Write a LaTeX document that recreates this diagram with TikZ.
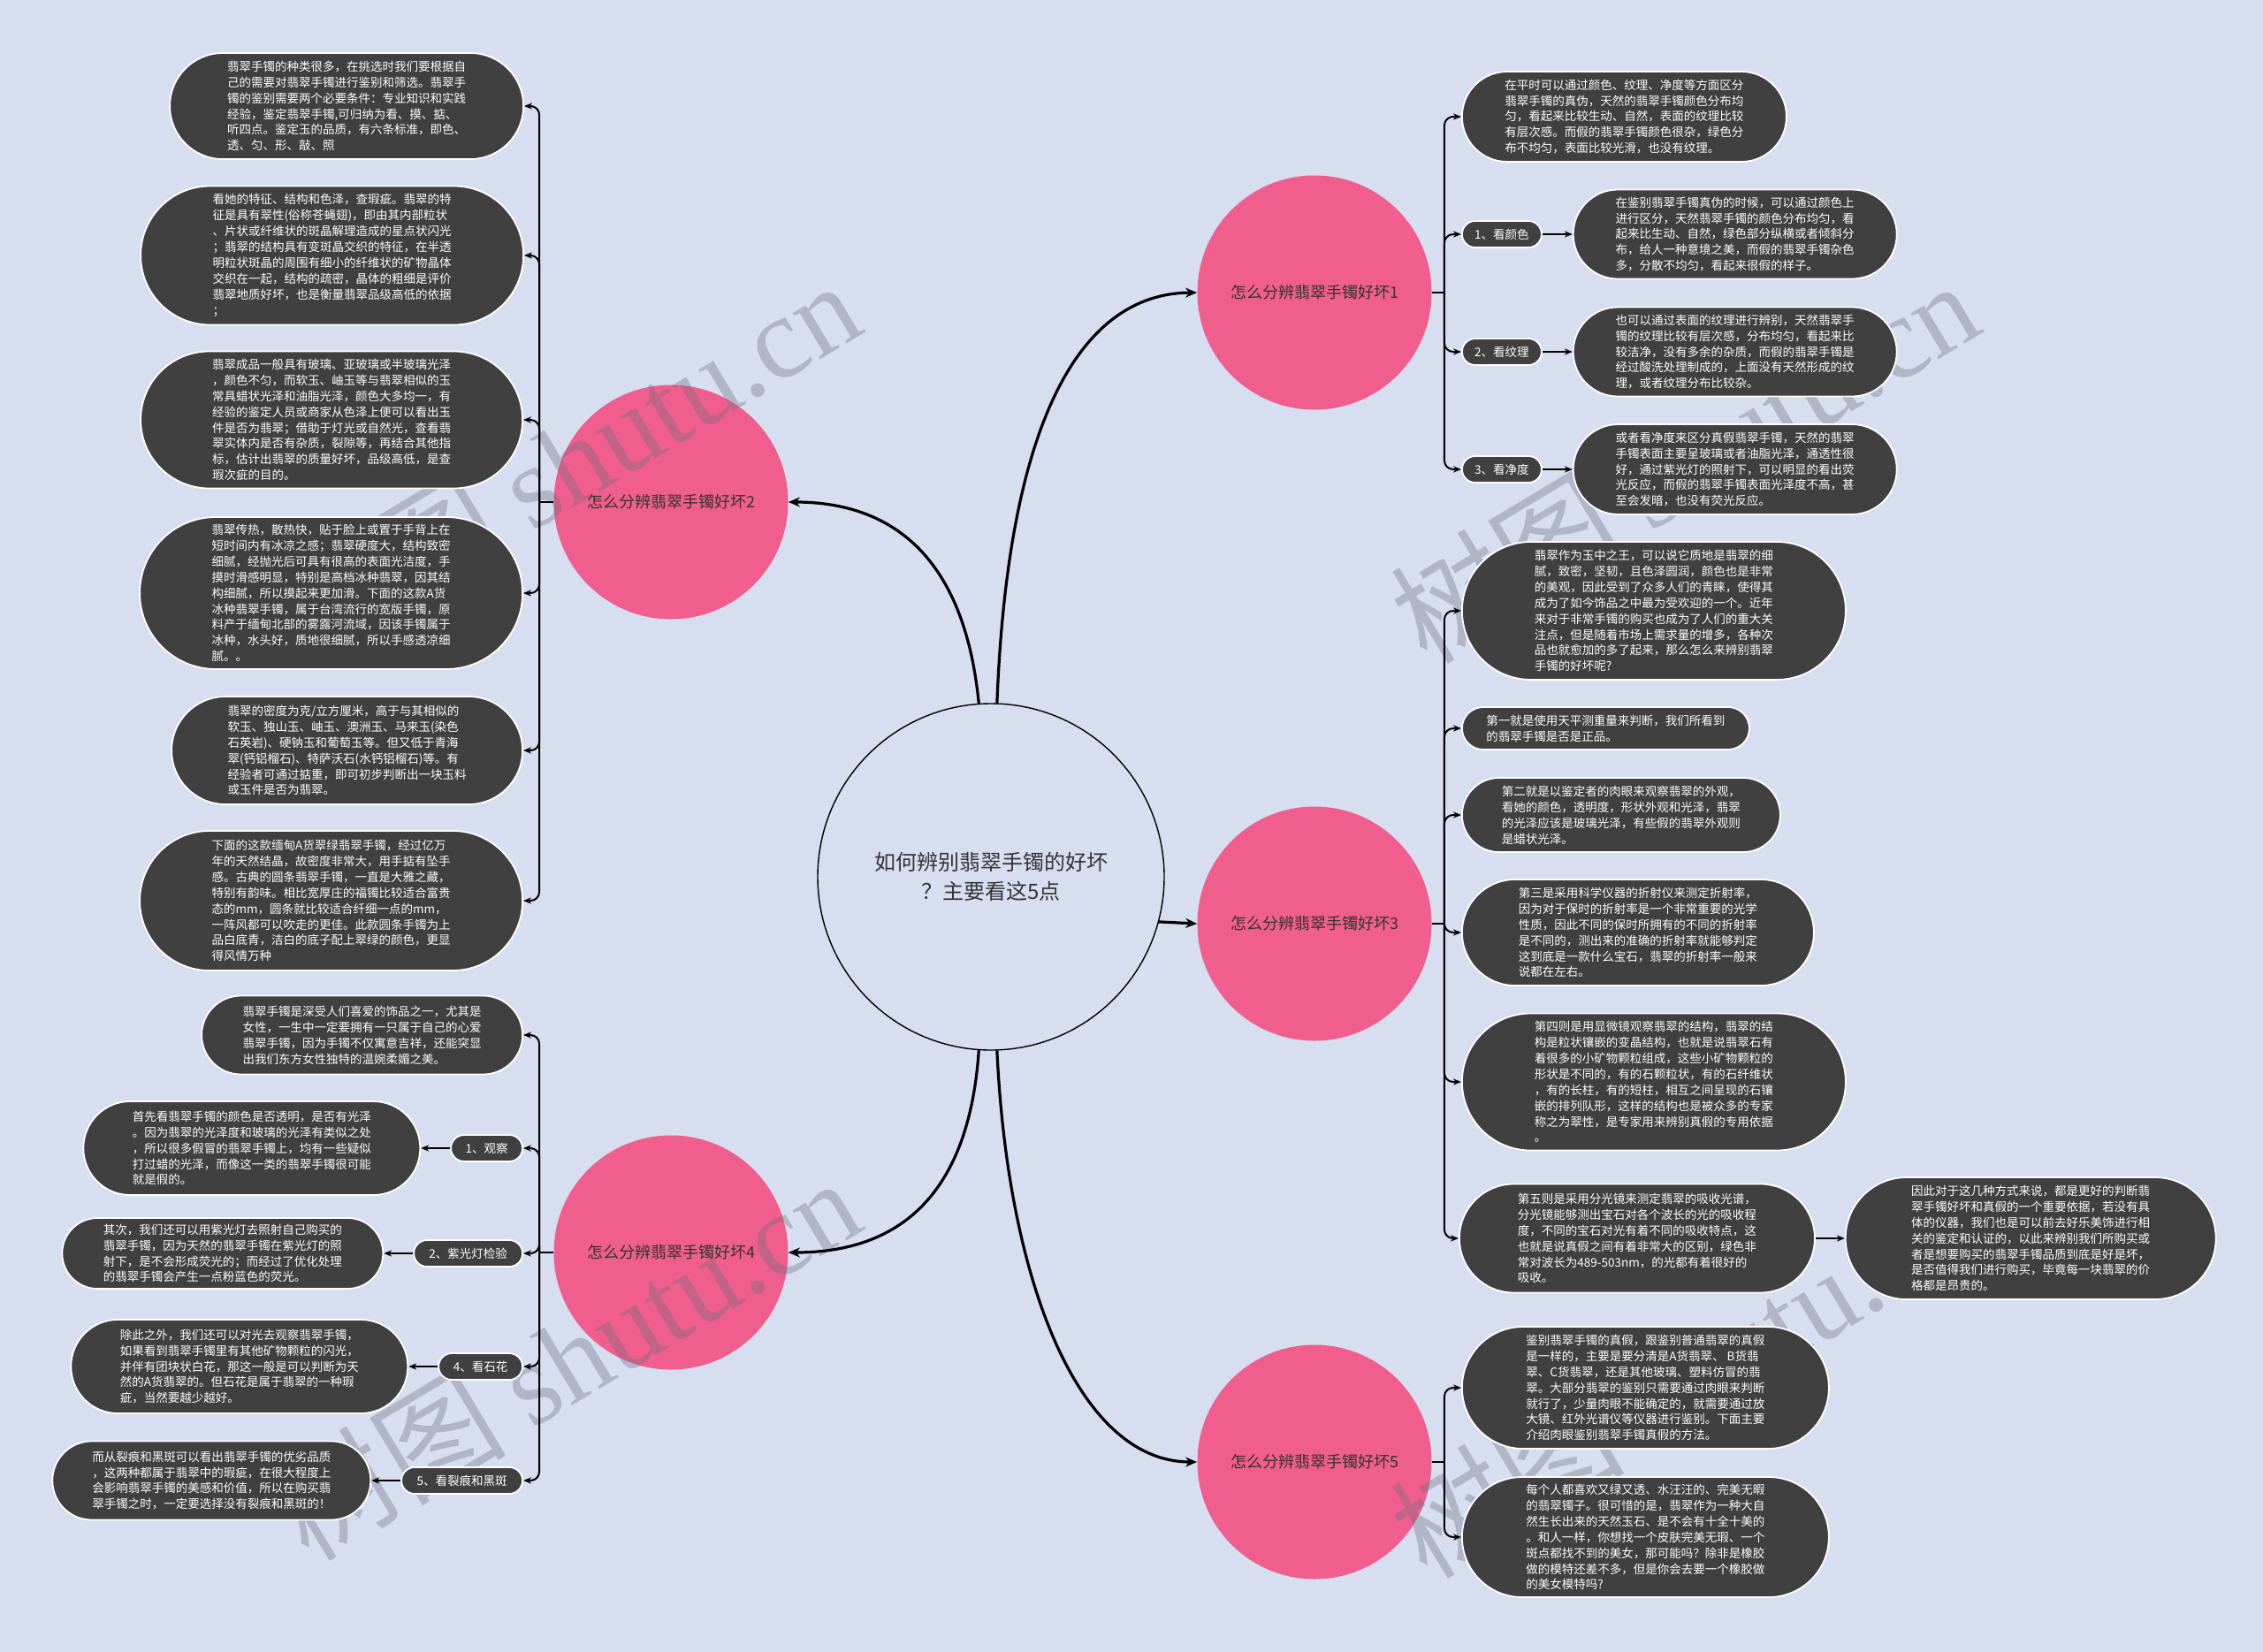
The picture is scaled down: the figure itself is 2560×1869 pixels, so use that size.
\documentclass[tikz,border=0pt]{standalone}
\usepackage{fontspec}
\setmainfont{Noto Sans CJK SC}
\newfontfamily\wmlatin{Liberation Serif}
\usetikzlibrary{shapes.misc,arrows.meta,positioning}
\definecolor{bg}{RGB}{214,222,240}
\definecolor{boxc}{RGB}{64,64,64}
\definecolor{pinkc}{RGB}{239,94,141}
\definecolor{txtc}{RGB}{51,51,51}
\definecolor{wmc}{RGB}{110,110,125}
\newcommand\boxfont{\fontsize{6.75pt}{8.95pt}\selectfont}
\begin{document}
\begin{tikzpicture}[x=0.5pt,y=-0.5pt,
  txtbox/.style={rounded rectangle, fill=boxc, draw=white, line width=0.9pt, text=white, font=\boxfont, align=left, inner xsep=0pt, inner ysep=1pt},
  lbl/.style={txtbox, minimum height=15pt},
  sub/.style={circle, fill=pinkc, draw=none, minimum size=132.5pt, inner sep=0pt, text=txtc, font=\fontsize{9pt}{11pt}\selectfont},
  hub/.style={circle, draw=black, line width=0.7pt, fill=bg, minimum size=196pt, inner sep=0pt, text=txtc, font=\fontsize{12pt}{16.5pt}\selectfont, align=center},
  link/.style={line width=1pt, rounded corners=5pt, -{Stealth[length=4.5pt,width=3.6pt]}},
  plain/.style={line width=1pt},
  trunk/.style={line width=1.6pt, -{Stealth[length=6.5pt,width=5.5pt]}},
  wm/.style={text=wmc, opacity=0.35, font=\fontsize{66pt}{70pt}\selectfont, rotate=31, inner sep=0pt}
]
\fill[bg] (0,0) rectangle (2560,1869);
\useasboundingbox (0,0) rectangle (2560,1869);

% hub and topic circles
\node[hub] (hub) at (1121,992) {如何辨别翡翠手镯的好坏\\？主要看这5点};
\node[sub] (p1) at (1487,331) {怎么分辨翡翠手镯好坏1};
\node[sub] (p2) at (759,568) {怎么分辨翡翠手镯好坏2};
\node[sub] (p3) at (1487,1045) {怎么分辨翡翠手镯好坏3};
\node[sub] (p4) at (759,1417) {怎么分辨翡翠手镯好坏4};
\node[sub] (p5) at (1487,1654) {怎么分辨翡翠手镯好坏5};

% watermarks
\node[wm] (w1) at (640,521) {树图 {\wmlatin shutu.cn}};
\node[wm] (w2) at (640,1536) {树图 {\wmlatin shutu.cn}};
\node[wm] (w3) at (1905,521) {树图 {\wmlatin shutu.cn}};
\node[wm] (w4) at (1905,1556) {树图 {\wmlatin shutu.cn}};

% ---- topic 1 (right top)
\node[txtbox, minimum height=51pt, minimum width=183.5pt, anchor=west] (A) at (1653,132) {在平时可以通过颜色、纹理、净度等方面区分\\翡翠手镯的真伪，天然的翡翠手镯颜色分布均\\匀，看起来比较生动、自然，表面的纹理比较\\有层次感。而假的翡翠手镯颜色很杂，绿色分\\布不均匀，表面比较光滑，也没有纹理。};
\node[lbl, minimum width=45pt, anchor=west] (l1) at (1653,265) {1、看颜色};
\node[txtbox, minimum height=50.5pt, minimum width=183pt, right=17pt of l1] (A1) {在鉴别翡翠手镯真伪的时候，可以通过颜色上\\进行区分，天然翡翠手镯的颜色分布均匀，看\\起来比生动、自然，绿色部分纵横或者倾斜分\\布，给人一种意境之美，而假的翡翠手镯杂色\\多，分散不均匀，看起来很假的样子。};
\node[lbl, minimum width=45pt, anchor=west] (l2) at (1653,398) {2、看纹理};
\node[txtbox, minimum height=50.5pt, minimum width=183pt, right=17pt of l2] (A2) {也可以通过表面的纹理进行辨别，天然翡翠手\\镯的纹理比较有层次感，分布均匀，看起来比\\较洁净，没有多余的杂质，而假的翡翠手镯是\\经过酸洗处理制成的，上面没有天然形成的纹\\理，或者纹理分布比较杂。};
\node[lbl, minimum width=45pt, anchor=west] (l3) at (1653,531) {3、看净度};
\node[txtbox, minimum height=51pt, minimum width=183pt, right=17pt of l3] (A3) {或者看净度来区分真假翡翠手镯，天然的翡翠\\手镯表面主要呈玻璃或者油脂光泽，通透性很\\好，通过紫光灯的照射下，可以明显的看出荧\\光反应，而假的翡翠手镯表面光泽度不高，甚\\至会发暗，也没有荧光反应。};

% ---- topic 3 (right middle)
\node[txtbox, minimum height=78pt, minimum width=217pt, anchor=west] (B1) at (1653,691) {翡翠作为玉中之王，可以说它质地是翡翠的细\\腻，致密，坚韧，且色泽圆润，颜色也是非常\\的美观，因此受到了众多人们的青睐，使得其\\成为了如今饰品之中最为受欢迎的一个。近年\\来对于非常手镯的购买也成为了人们的重大关\\注点，但是随着市场上需求量的增多，各种次\\品也就愈加的多了起来，那么怎么来辨别翡翠\\手镯的好坏呢?};
\node[txtbox, minimum height=24pt, minimum width=162.5pt, anchor=west] (B2) at (1653,824) {第一就是使用天平测重量来判断，我们所看到\\的翡翠手镯是否是正品。};
\node[txtbox, minimum height=42pt, minimum width=180pt, anchor=west] (B3) at (1653,922) {第二就是以鉴定者的肉眼来观察翡翠的外观，\\看她的颜色，透明度，形状外观和光泽，翡翠\\的光泽应该是玻璃光泽，有些假的翡翠外观则\\是蜡状光泽。};
\node[txtbox, minimum height=60pt, minimum width=199pt, anchor=west] (B4) at (1653,1055) {第三是采用科学仪器的折射仪来测定折射率，\\因为对于保时的折射率是一个非常重要的光学\\性质，因此不同的保时所拥有的不同的折射率\\是不同的，测出来的准确的折射率就能够判定\\这到底是一款什么宝石，翡翠的折射率一般来\\说都在左右。};
\node[txtbox, minimum height=77.5pt, minimum width=217pt, anchor=west] (B5) at (1653,1224) {第四则是用显微镜观察翡翠的结构，翡翠的结\\构是粒状镶嵌的变晶结构，也就是说翡翠石有\\着很多的小矿物颗粒组成，这些小矿物颗粒的\\形状是不同的，有的石颗粒状，有的石纤维状\\，有的长柱，有的短柱，相互之间呈现的石镶\\嵌的排列队形，这样的结构也是被众多的专家\\称之为翠性，是专家用来辨别真假的专用依据\\。};
\node[txtbox, minimum height=61.5pt, minimum width=201pt, anchor=west] (B6) at (1650,1401) {第五则是采用分光镜来测定翡翠的吸收光谱，\\分光镜能够测出宝石对各个波长的光的吸收程\\度，不同的宝石对光有着不同的吸收特点，这\\也就是说真假之间有着非常大的区别，绿色非\\常对波长为489-503nm，的光都有着很好的\\吸收。};
\node[txtbox, minimum height=69pt, minimum width=209.5pt, right=16.5pt of B6] (B7) {因此对于这几种方式来说，都是更好的判断翡\\翠手镯好坏和真假的一个重要依据，若没有具\\体的仪器，我们也是可以前去好乐美饰进行相\\关的鉴定和认证的，以此来辨别我们所购买或\\者是想要购买的翡翠手镯品质到底是好是坏，\\是否值得我们进行购买，毕竟每一块翡翠的价\\格都是昂贵的。};

% ---- topic 5 (right bottom)
\node[txtbox, minimum height=69pt, minimum width=207.5pt, anchor=west] (C1) at (1653,1570) {鉴别翡翠手镯的真假，跟鉴别普通翡翠的真假\\是一样的，主要是要分清是A货翡翠、 B货翡\\翠、C货翡翠，还是其他玻璃、塑料仿冒的翡\\翠。大部分翡翠的鉴别只需要通过肉眼来判断\\就行了，少量肉眼不能确定的，就需要通过放\\大镜、红外光谱仪等仪器进行鉴别。下面主要\\介绍肉眼鉴别翡翠手镯真假的方法。};
\node[txtbox, minimum height=68pt, minimum width=207.5pt, anchor=west] (C2) at (1653,1739) {每个人都喜欢又绿又透、水汪汪的、完美无暇\\的翡翠镯子。很可惜的是，翡翠作为一种大自\\然生长出来的天然玉石、是不会有十全十美的\\。和人一样，你想找一个皮肤完美无瑕、一个\\斑点都找不到的美女，那可能吗？除非是橡胶\\做的模特还差不多，但是你会去要一个橡胶做\\的美女模特吗?};

% ---- topic 2 (left top)
\node[txtbox, minimum height=60pt, minimum width=200pt, anchor=east] (L1) at (593,120) {翡翠手镯的种类很多，在挑选时我们要根据自\\己的需要对翡翠手镯进行鉴别和筛选。翡翠手\\镯的鉴别需要两个必要条件：专业知识和实践\\经验，鉴定翡翠手镯,可归纳为看、摸、掂、\\听四点。鉴定玉的品质，有六条标准，即色、\\透、匀、形、敲、照};
\node[txtbox, minimum height=78.5pt, minimum width=216.5pt, anchor=east] (L2) at (593,289) {看她的特征、结构和色泽，查瑕疵。翡翠的特\\征是具有翠性(俗称苍蝇翅)，即由其内部粒状\\、片状或纤维状的斑晶解理造成的星点状闪光\\；翡翠的结构具有变斑晶交织的特征，在半透\\明粒状斑晶的周围有细小的纤维状的矿物晶体\\交织在一起，结构的疏密，晶体的粗细是评价\\翡翠地质好坏，也是衡量翡翠品级高低的依据\\；};
\node[txtbox, minimum height=77.5pt, minimum width=216pt, anchor=east] (L3) at (592,475) {翡翠成品一般具有玻璃、亚玻璃或半玻璃光泽\\，颜色不匀，而软玉、岫玉等与翡翠相似的玉\\常具蜡状光泽和油脂光泽，颜色大多均一，有\\经验的鉴定人员或商家从色泽上便可以看出玉\\件是否为翡翠；借助于灯光或自然光，查看翡\\翠实体内是否有杂质，裂隙等，再结合其他指\\标，估计出翡翠的质量好坏，品级高低，是查\\瑕次疵的目的。};
\node[txtbox, minimum height=86pt, minimum width=216.5pt, anchor=east] (L4) at (592,671) {翡翠传热，散热快，贴于脸上或置于手背上在\\短时间内有冰凉之感；翡翠硬度大，结构致密\\细腻，经抛光后可具有很高的表面光洁度，手\\摸时滑感明显，特别是高档冰种翡翠，因其结\\构细腻，所以摸起来更加滑。下面的这款A货\\冰种翡翠手镯，属于台湾流行的宽版手镯，原\\料产于缅甸北部的雾露河流域，因该手镯属于\\冰种，水头好，质地很细腻，所以手感透凉细\\腻。。};
\node[txtbox, minimum height=61pt, minimum width=198.5pt, anchor=east] (L5) at (592,849) {翡翠的密度为克/立方厘米，高于与其相似的\\软玉、独山玉、岫玉、澳洲玉、马来玉(染色\\石英岩)、硬钠玉和葡萄玉等。但又低于青海\\翠(钙铝榴石)、特萨沃石(水钙铝榴石)等。有\\经验者可通过掂重，即可初步判断出一块玉料\\或玉件是否为翡翠。};
\node[txtbox, minimum height=79pt, minimum width=216.5pt, anchor=east] (L6) at (592,1019) {下面的这款缅甸A货翠绿翡翠手镯，经过亿万\\年的天然结晶，故密度非常大，用手掂有坠手\\感。古典的圆条翡翠手镯，一直是大雅之藏，\\特别有韵味。相比宽厚庄的福镯比较适合富贵\\态的mm，圆条就比较适合纤细一点的mm，\\一阵风都可以吹走的更佳。此款圆条手镯为上\\品白底青，洁白的底子配上翠绿的颜色，更显\\得风情万种};

% ---- topic 4 (left bottom)
\node[txtbox, minimum height=44.5pt, minimum width=181.5pt, anchor=east] (D1) at (592,1171) {翡翠手镯是深受人们喜爱的饰品之一，尤其是\\女性，一生中一定要拥有一只属于自己的心爱\\翡翠手镯，因为手镯不仅寓意吉祥，还能突显\\出我们东方女性独特的温婉柔媚之美。};
\node[lbl, minimum width=40.5pt, anchor=east] (m1) at (592,1299) {1、观察};
\node[txtbox, minimum height=53pt, minimum width=190.5pt, left=16.5pt of m1] (D2) {首先看翡翠手镯的颜色是否透明，是否有光泽\\。因为翡翠的光泽度和玻璃的光泽有类似之处\\，所以很多假冒的翡翠手镯上，均有一些疑似\\打过蜡的光泽，而像这一类的翡翠手镯很可能\\就是假的。};
\node[lbl, minimum width=61.5pt, anchor=east] (m2) at (592,1418) {2、紫光灯检验};
\node[txtbox, minimum height=40pt, minimum width=181.5pt, left=16.5pt of m2] (D3) {其次，我们还可以用紫光灯去照射自己购买的\\翡翠手镯，因为天然的翡翠手镯在紫光灯的照\\射下，是不会形成荧光的；而经过了优化处理\\的翡翠手镯会产生一点粉蓝色的荧光。};
\node[lbl, minimum width=47.5pt, anchor=east] (m4) at (592,1546) {4、看石花};
\node[txtbox, minimum height=53pt, minimum width=190.5pt, left=16.5pt of m4] (D4) {除此之外，我们还可以对光去观察翡翠手镯，\\如果看到翡翠手镯里有其他矿物颗粒的闪光，\\并伴有团块状白花，那这一般是可以判断为天\\然的A货翡翠的。但石花是属于翡翠的一种瑕\\疵，当然要越少越好。};
\node[lbl, minimum width=68.5pt, anchor=east] (m5) at (592,1675) {5、看裂痕和黑斑};
\node[txtbox, minimum height=44.5pt, minimum width=180pt, left=16.5pt of m5] (D5) {而从裂痕和黑斑可以看出翡翠手镯的优劣品质\\，这两种都属于翡翠中的瑕疵，在很大程度上\\会影响翡翠手镯的美感和价值，所以在购买翡\\翠手镯之时，一定要选择没有裂痕和黑斑的！};

% junctions
\path (p1.east) ++(14,0) coordinate (J1);
\path (p3.east) ++(14,0) coordinate (J3);
\path (p5.east) ++(14,0) coordinate (J5);
\path (p2.west) ++(-16,0) coordinate (J2);
\path (p4.west) ++(-16,0) coordinate (J4);

% trunks from hub
\draw[trunk] (hub.88) .. controls (1140,480) and (1220,332) .. (p1.west);
\draw[trunk] (hub.94) .. controls (1090,620) and (1000,568) .. (p2.east);
\draw[trunk] (hub.-15.7) -- (p3.west);
\draw[trunk] (hub.266) .. controls (1095,1370) and (1000,1417) .. (p4.east);
\draw[trunk] (hub.272) .. controls (1140,1450) and (1220,1654) .. (p5.west);

% branches
\draw[plain] (p1.east) -- (J1);
\draw[plain] (p3.east) -- (J3);
\draw[plain] (p5.east) -- (J5);
\draw[plain] (p2.west) -- (J2);
\draw[plain] (p4.west) -- (J4);
\foreach \t in {A,l1,l2,l3} \draw[link] (J1) |- (\t.west);
\foreach \t in {B1,B2,B3,B4,B5,B6} \draw[link] (J3) |- (\t.west);
\foreach \t in {C1,C2} \draw[link] (J5) |- (\t.west);
\foreach \t in {L1,L2,L3,L4,L5,L6} \draw[link] (J2) |- (\t.east);
\foreach \t in {D1,m1,m2,m4,m5} \draw[link] (J4) |- (\t.east);
\draw[link] (l1.east) -- (A1.west);
\draw[link] (l2.east) -- (A2.west);
\draw[link] (l3.east) -- (A3.west);
\draw[link] (B6.east) -- (B7.west);
\draw[link] (m1.west) -- (D2.east);
\draw[link] (m2.west) -- (D3.east);
\draw[link] (m4.west) -- (D4.east);
\draw[link] (m5.west) -- (D5.east);
\end{tikzpicture}
\end{document}
